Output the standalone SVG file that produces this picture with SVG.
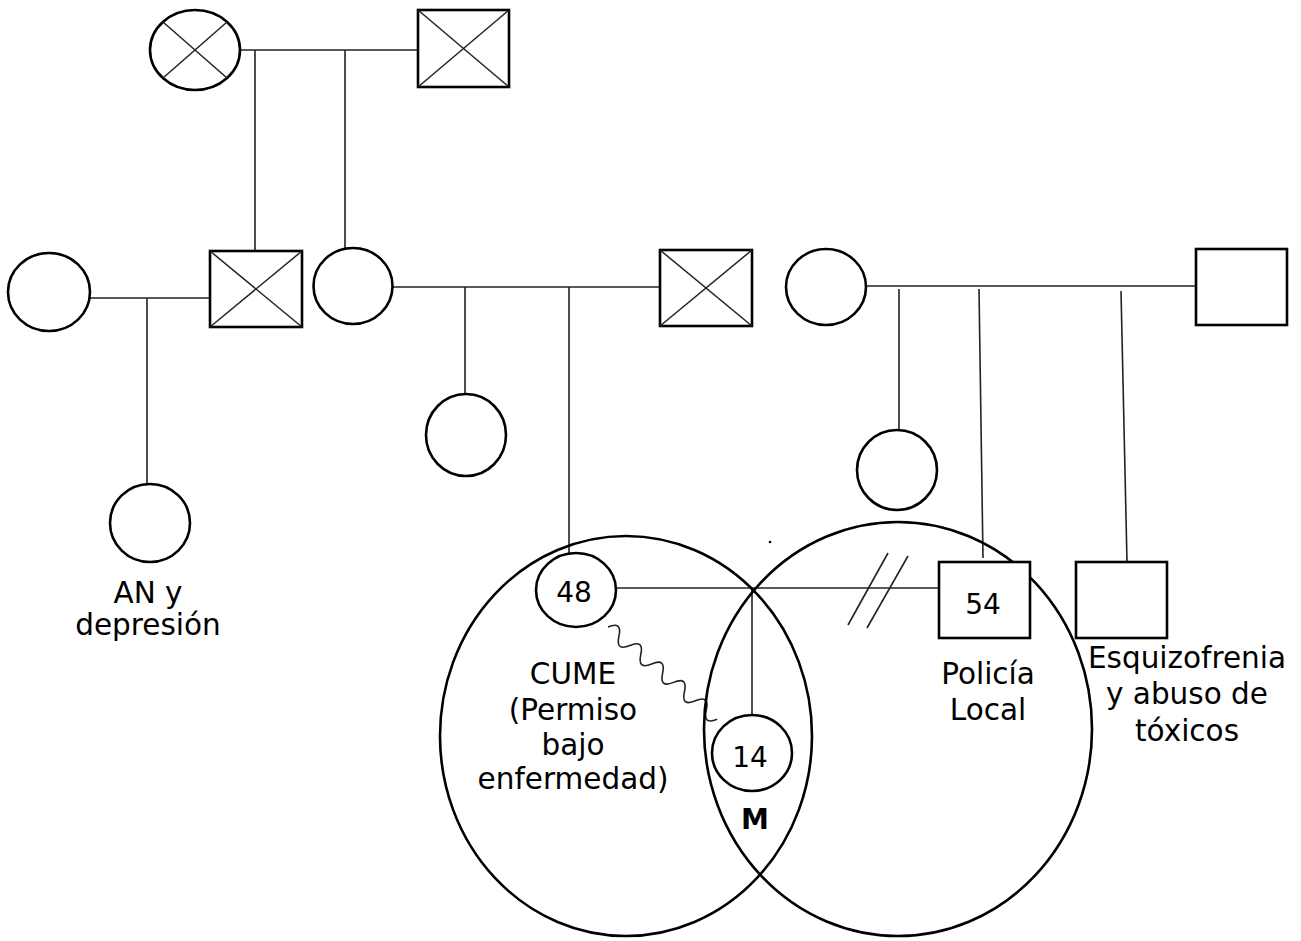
<svg xmlns="http://www.w3.org/2000/svg" width="1301" height="941" viewBox="0 0 1301 941">
<style>
.s{fill:#fff;stroke:#000;stroke-width:2.6}
.b{fill:none;stroke:#000;stroke-width:2.6}
.x{stroke:#222;stroke-width:1.5}
.c line,.c path{stroke:#222;stroke-width:1.6;fill:none}
.t{font-family:"DejaVu Sans","Verdana",sans-serif;font-size:29.5px;fill:#000;text-anchor:middle}
.n{font-family:"DejaVu Sans","Verdana",sans-serif;font-size:28px;fill:#000;text-anchor:middle}
</style>
<rect width="1301" height="941" fill="#fff"/>
<g id="connectors" class="c">
<line x1="239" y1="50" x2="418" y2="50"/>
<line x1="255" y1="50" x2="255" y2="251"/>
<line x1="345" y1="50" x2="345" y2="249"/>
<line x1="90" y1="298" x2="210" y2="298"/>
<line x1="147" y1="298" x2="147" y2="484"/>
<line x1="393" y1="287" x2="660" y2="287"/>
<line x1="465" y1="287" x2="465" y2="394"/>
<line x1="569" y1="287" x2="569" y2="553"/>
<line x1="866" y1="286" x2="1196" y2="286"/>
<line x1="899" y1="289" x2="899" y2="430"/>
<line x1="979" y1="289" x2="983" y2="558"/>
<line x1="1121" y1="291" x2="1127" y2="562"/>
<line x1="616" y1="588" x2="939" y2="588"/>
<line x1="752" y1="588" x2="752" y2="715"/>
<line x1="888" y1="553" x2="848" y2="625"/>
<line x1="908" y1="556" x2="867" y2="628"/>
<path d="M0 0 q7 -14 14.3 0 t14.3 0 t14.3 0 t14.3 0 t14.3 0 t14.3 0 t14.3 0 t14.3 0 t14.3 0 t14.3 0" transform="translate(608,627) rotate(40.2)"/>
</g>
<g id="ellipse-left"><ellipse class="b" cx="626" cy="736" rx="186" ry="200"/></g>
<g id="ellipse-right"><ellipse class="b" cx="898" cy="729" rx="194" ry="207"/></g>
<g id="grandmother"><ellipse class="s" cx="195" cy="50" rx="45" ry="40"/><line class="x" x1="163" y1="22" x2="227" y2="78"/><line class="x" x1="227" y1="22" x2="163" y2="78"/></g>
<g id="grandfather"><rect class="s" x="418" y="10" width="91" height="77"/><line class="x" x1="418" y1="10" x2="509" y2="87"/><line class="x" x1="509" y1="10" x2="418" y2="87"/></g>
<g id="wife-left"><ellipse class="s" cx="49" cy="292" rx="41" ry="39"/></g>
<g id="son-deceased"><rect class="s" x="210" y="251" width="92" height="76"/><line class="x" x1="210" y1="251" x2="302" y2="327"/><line class="x" x1="302" y1="251" x2="210" y2="327"/></g>
<g id="daughter"><ellipse class="s" cx="353" cy="286" rx="39.5" ry="38"/></g>
<g id="husband-deceased"><rect class="s" x="660" y="250" width="92" height="76"/><line class="x" x1="660" y1="250" x2="752" y2="326"/><line class="x" x1="752" y1="250" x2="660" y2="326"/></g>
<g id="mother-right"><ellipse class="s" cx="826" cy="287" rx="40" ry="38"/></g>
<g id="father-right"><rect class="s" x="1196" y="249" width="91" height="76"/></g>
<g id="an-depresion"><ellipse class="s" cx="150" cy="523" rx="40" ry="39"/><text class="t" x="148" y="603">AN y</text><text class="t" x="148" y="635">depresión</text></g>
<g id="sister"><ellipse class="s" cx="466" cy="435" rx="40" ry="41"/></g>
<g id="sister-right"><ellipse class="s" cx="897" cy="470" rx="40" ry="40"/></g>
<g id="p48"><ellipse class="s" cx="576" cy="590" rx="40" ry="37"/><text class="n" x="574" y="602">48</text></g>
<g id="cume-label"><text class="t" x="573" y="684">CUME</text><text class="t" x="573" y="720">(Permiso</text><text class="t" x="573" y="755">bajo</text><text class="t" x="573" y="789">enfermedad)</text></g>
<g id="p54"><rect class="s" x="939" y="562" width="91" height="76"/><text class="n" x="983" y="614">54</text><text class="t" x="988" y="684">Policía</text><text class="t" x="988" y="720">Local</text></g>
<g id="brother"><rect class="s" x="1076" y="562" width="91" height="76"/><text class="t" x="1187" y="668">Esquizofrenia</text><text class="t" x="1187" y="704">y abuso de</text><text class="t" x="1187" y="741">tóxicos</text></g>
<g id="p14"><ellipse class="s" cx="752" cy="753" rx="40" ry="38"/><text class="n" x="750" y="767">14</text><text class="n" x="755" y="829" font-weight="bold" font-size="25px">M</text></g>
<circle cx="770" cy="542" r="1.3" fill="#000"/>
</svg>
